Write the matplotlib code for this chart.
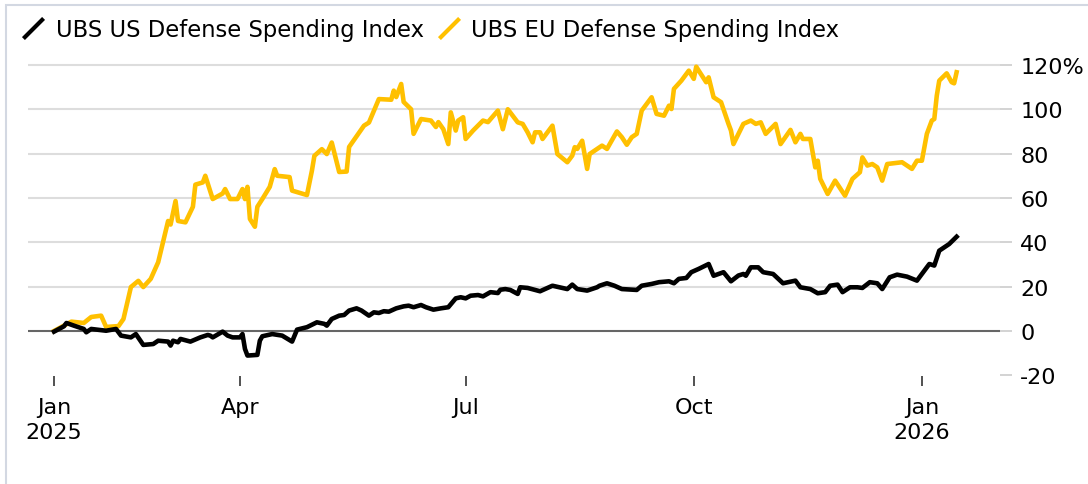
import pandas as pd
import matplotlib
matplotlib.use("Agg")
from matplotlib import pyplot as plt
from matplotlib.lines import Line2D
from matplotlib.patches import Rectangle

plt.rcParams['font.family'] = ['DejaVu Sans']

start = pd.Timestamp('2025-01-16')

# days since start, % change
us_days = [0, 4, 5, 8, 12, 13, 15, 21, 25, 27, 31, 33, 36, 40, 42, 46, 47, 48, 50, 51,
           55, 59, 62, 63, 64, 68, 70, 72, 75, 76, 77, 78, 82, 83, 84, 88, 92, 96, 98, 102,
           106, 109, 110, 112, 115, 117, 119, 122, 124, 127, 129, 131, 133, 135, 138, 141, 143, 145, 148, 150,
           153, 156, 159, 162, 164, 166, 168, 171, 173, 176, 179, 180, 182, 184, 187, 188, 191, 196, 201, 207,
           209, 211, 215, 219, 220, 223, 226, 229, 235, 237, 241, 244, 248, 250, 252, 255, 257, 260, 264, 266,
           270, 273, 276, 278, 279, 281, 284, 286, 290, 294, 299, 301, 305, 308, 311, 313, 316, 318, 321, 324,
           326, 329, 332, 334, 337, 340, 344, 348, 350, 353, 355, 357, 361, 364]
us_vals = [-0.3, 2.1, 3.6, 2.4, 0.9, -0.6, 0.9, 0.1, 0.9, -2.1, -2.9, -1.4, -6.3, -5.9, -4.4, -4.8, -6.6, -4.4, -5.1, -3.6,
           -4.8, -2.9, -1.8, -2.1, -2.9, -0.3, -2.1, -2.9, -2.9, -1.4, -8.1, -11.1, -10.8, -4.4, -2.4, -1.4, -2.1, -4.8, 0.6, 1.7,
           3.9, 3.2, 2.4, 5.4, 6.9, 7.2, 9.2, 10.2, 9.2, 6.9, 8.4, 8.1, 8.9, 8.7, 10.2, 11.1, 11.4, 10.7, 11.7, 10.7,
           9.6, 10.2, 10.7, 14.7, 15.2, 14.7, 15.9, 16.2, 15.6, 17.5, 17.1, 18.6, 18.9, 18.5, 16.7, 19.7, 19.4, 17.9, 20.4, 18.9,
           20.9, 18.9, 18.2, 19.7, 20.4, 21.5, 20.4, 18.9, 18.5, 20.4, 21.2, 22.0, 22.4, 21.5, 23.5, 23.9, 26.5, 28.0, 30.2, 24.9,
           26.5, 22.4, 25.0, 25.7, 24.9, 28.7, 28.7, 26.5, 25.7, 21.5, 22.7, 19.7, 18.9, 17.0, 17.5, 20.4, 20.9, 17.5, 19.7, 19.7,
           19.4, 22.0, 21.5, 18.9, 24.2, 25.4, 24.5, 22.7, 25.7, 30.2, 29.5, 36.2, 39.2, 42.5]

eu_days = [0, 7, 12, 15, 19, 21, 26, 28, 31, 34, 36, 39, 42, 46, 47, 49, 50, 53, 56, 57,
           60, 61, 64, 68, 69, 71, 74, 76, 77, 78, 79, 81, 82, 84, 87, 89, 90, 95, 96, 102,
           104, 105, 108, 110, 112, 115, 118, 119, 125, 127, 131, 136, 137, 138, 140, 141, 144, 145, 148, 152,
           154, 155, 157, 159, 160, 162, 163, 165, 166, 169, 173, 175, 179, 181, 183, 187, 189, 191, 193, 194,
           196, 197, 201, 203, 207, 209, 210, 211, 213, 215, 216, 219, 221, 223, 227, 229, 231, 233, 235, 237,
           241, 243, 246, 248, 249, 250, 253, 256, 258, 259, 260, 263, 264, 266, 269, 272, 273, 274, 278, 281,
           283, 285, 287, 291, 293, 297, 299, 301, 302, 305, 307, 308, 309, 312, 315, 319, 322, 325, 326, 328,
           330, 332, 334, 336, 342, 346, 348, 350, 352, 354, 355, 356, 357, 360, 362, 363, 364]
eu_vals = [0.0, 4.2, 3.6, 6.3, 6.9, 1.8, 2.2, 5.4, 19.8, 22.6, 19.8, 23.5, 31.0, 49.6, 48.0, 58.6, 49.6, 49.0, 56.0, 66.0,
           67.0, 70.0, 59.5, 62.0, 64.0, 59.5, 59.5, 64.0, 59.5, 65.0, 50.5, 47.0, 56.0, 59.5, 65.0, 73.0, 70.0, 69.4, 63.3, 61.3,
           72.3, 79.0, 82.0, 79.8, 85.0, 71.7, 71.9, 83.0, 92.6, 94.0, 104.6, 104.3, 108.4, 105.5, 111.4, 103.3, 100.0, 88.9, 95.6, 94.9,
           92.0, 94.2, 91.0, 84.3, 98.6, 90.4, 94.9, 96.4, 86.6, 90.4, 94.9, 94.2, 99.4, 91.0, 100.0, 94.1, 93.4, 89.6, 85.1, 89.6,
           89.6, 86.6, 92.6, 79.8, 76.1, 79.1, 82.9, 82.1, 85.8, 73.1, 79.8, 82.1, 83.6, 82.1, 90.0, 87.4, 84.0, 87.4, 88.9, 99.4,
           105.4, 97.9, 97.1, 101.6, 100.1, 109.2, 112.9, 117.4, 113.7, 119.2, 117.4, 112.2, 114.4, 105.4, 103.2, 93.4, 90.4, 84.3, 93.4, 94.9,
           93.4, 94.1, 88.9, 93.4, 84.3, 90.7, 85.1, 88.9, 86.6, 86.6, 73.8, 76.8, 68.6, 61.8, 67.8, 61.0, 68.6, 71.6, 78.3, 74.6,
           75.3, 73.8, 67.8, 75.3, 76.1, 73.1, 76.8, 76.8, 88.9, 94.9, 95.6, 106.1, 112.9, 116.2, 112.2, 111.7, 116.7]

tick_dates = ['2025-01-16', '2025-04-01', '2025-07-01', '2025-10-01', '2026-01-01']
tick_labels = ['Jan\n2025', 'Apr', 'Jul', 'Oct', 'Jan\n2026']
y_ticks = [-20, 0, 20, 40, 60, 80, 100, 120]
y_labels = ['-20', '0', '20', '40', '60', '80', '100', '120%']

us_x = start + pd.to_timedelta(us_days, unit='D')
eu_x = start + pd.to_timedelta(eu_days, unit='D')

yellow = '#FFC000'
fs = 16
W, H = 1088, 485
fig = plt.figure(figsize=(W / 100, H / 100), dpi=100)
ax = fig.add_axes([28 / W, 1 - 377.4 / H, 972 / W, 313.7 / H])

ax.plot(eu_x, eu_vals, color=yellow, lw=3.3, solid_joinstyle='round', zorder=3)
ax.plot(us_x, us_vals, color='black', lw=3.3, solid_joinstyle='round', zorder=4)

ax.set_xlim(start - pd.Timedelta(days=10.5), start + pd.Timedelta(days=381.5))
ax.set_ylim(-20.5, 121)

ax.set_yticks(y_ticks)
ax.set_yticklabels(y_labels)
ax.yaxis.tick_right()
ax.tick_params(axis='y', length=8.6, width=1.2, color='#cccccc', pad=6, labelsize=fs)
ax.set_xticks(pd.to_datetime(tick_dates))
ax.set_xticklabels(tick_labels, linespacing=1.3)
ax.tick_params(axis='x', length=7, width=1.2, color='#333333', pad=8, labelsize=fs)

ax.set_axisbelow(True)
ax.grid(axis='y', color='#dddddd', lw=1.5)
for gl, v in zip(ax.get_ygridlines(), y_ticks):
    if v == -20:
        gl.set_visible(False)
    elif v == 0:
        gl.set_color('#666666')
for s in ax.spines.values():
    s.set_visible(False)

mark = [(-1, -1), (1, 1)]
handles = [Line2D([], [], color='black', marker=mark, markersize=14.5, markeredgewidth=3, linestyle='none'),
           Line2D([], [], color=yellow, marker=mark, markersize=14.5, markeredgewidth=3, linestyle='none')]
fig.legend(handles, ['UBS US Defense Spending Index', 'UBS EU Defense Spending Index'],
           loc='upper left', bbox_to_anchor=(22 / W, 1 - 19 / H), ncol=2, frameon=False,
           fontsize=16.3, handlelength=1.0, handletextpad=0.5, columnspacing=0.6,
           borderpad=0, borderaxespad=0)

fig.patches.append(Rectangle((6 / W, -0.1), 1.2, 1.1 - 6 / H, transform=fig.transFigure,
                             fill=False, edgecolor='#d3d8e2', lw=1.5))

fig.savefig('out.png', dpi=100)
